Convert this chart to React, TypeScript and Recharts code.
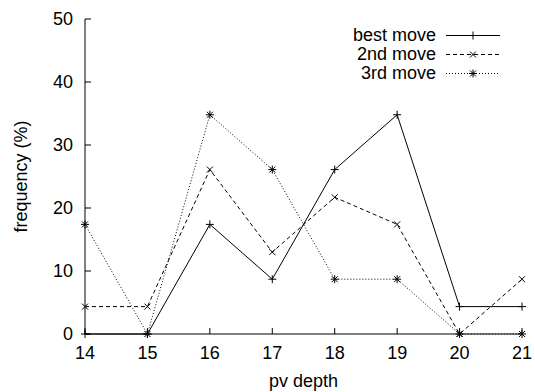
import React from 'react';
import { LineChart, Line, XAxis, YAxis, Legend } from 'recharts';

const depths = [14, 15, 16, 17, 18, 19, 20, 21];
const bestMove = [0, 0, 17.4, 8.7, 26.1, 34.8, 4.35, 4.35];
const secondMove = [4.35, 4.35, 26.1, 13.0, 21.7, 17.4, 0, 8.7];
const thirdMove = [17.4, 0, 34.8, 26.1, 8.7, 8.7, 0, 0];
const xTicks = [14, 15, 16, 17, 18, 19, 20, 21];
const yTicks = [0, 10, 20, 30, 40, 50];

const data = depths.map((d, i) => ({
  depth: d,
  best: bestMove[i],
  second: secondMove[i],
  third: thirdMove[i],
}));

const FONT = '"Liberation Sans", Arial, Helvetica, sans-serif';

// gnuplot point types
const plusPath = (cx: number, cy: number) => `M${cx - 4},${cy}h8M${cx},${cy - 4}v8`;
const crossPath = (cx: number, cy: number) => `M${cx - 3},${cy - 3}l6,6M${cx - 3},${cy + 3}l6,-6`;
const starPath = (cx: number, cy: number) => plusPath(cx, cy) + crossPath(cx, cy);

const makeDot = (fn: (cx: number, cy: number) => string) => (props: any) => {
  const { cx, cy, index } = props;
  return <path key={index} d={fn(cx, cy)} stroke="#000" strokeWidth={1} fill="none" />;
};

const series = [
  { key: 'best', name: 'best move', dash: undefined, shape: plusPath },
  { key: 'second', name: '2nd move', dash: '4 3', shape: crossPath },
  { key: 'third', name: '3rd move', dash: '1 2', shape: starPath },
];

const LegendBox = () => (
  <div style={{ fontFamily: FONT, fontSize: 18, color: '#000' }}>
    {series.map((s) => (
      <div key={s.key} style={{ display: 'flex', alignItems: 'center', height: 19 }}>
        <span style={{ width: 140, textAlign: 'right', lineHeight: '19px' }}>{s.name}</span>
        <svg width={63} height={19} style={{ marginLeft: 10 }}>
          <line x1={0} y1={9.5} x2={54} y2={9.5} stroke="#000" strokeWidth={1} strokeDasharray={s.dash} />
          <path d={s.shape(27, 9.5)} stroke="#000" fill="none" />
        </svg>
      </div>
    ))}
  </div>
);

const tickStyle = { fill: '#000', fontSize: 18, fontFamily: FONT };

export default function App() {
  return (
    <div style={{ position: 'absolute', left: 0, top: 0, background: '#fff' }}>
      <LineChart width={535} height={392} data={data} margin={{ top: 19, right: 13, left: 0, bottom: 0 }}>
        <XAxis
          dataKey="depth"
          type="number"
          domain={[14, 21]}
          ticks={xTicks}
          height={58}
          stroke="#000"
          tickSize={-6}
          tickMargin={18}
          tick={tickStyle}
          label={{ value: 'pv depth', position: 'insideBottom', offset: 5, style: { fill: '#000', fontSize: 18, fontFamily: FONT } }}
        />
        <XAxis
          xAxisId="top"
          orientation="top"
          dataKey="depth"
          type="number"
          domain={[14, 21]}
          ticks={xTicks}
          height={0}
          stroke="#000"
          tickSize={-6}
          tickFormatter={() => ''}
        />
        <YAxis
          type="number"
          domain={[0, 50]}
          ticks={yTicks}
          width={85}
          stroke="#000"
          tickSize={-6}
          tickMargin={18}
          tick={tickStyle}
          label={{
            value: 'frequency (%)',
            angle: -90,
            position: 'insideLeft',
            offset: 21,
            style: { fill: '#000', fontSize: 18, fontFamily: FONT, textAnchor: 'middle' },
          }}
        />
        <YAxis
          yAxisId="right"
          orientation="right"
          type="number"
          domain={[0, 50]}
          ticks={yTicks}
          width={0}
          stroke="#000"
          tickSize={-6}
          tickFormatter={() => ''}
        />
        <Legend
          layout="horizontal"
          verticalAlign="middle"
          align="center"
          content={<LegendBox />}
          wrapperStyle={{ top: 26, left: 296, width: 220 }}
        />
        {series.map((s) => (
          <Line
            key={s.key}
            type="linear"
            dataKey={s.key}
            name={s.name}
            stroke="#000"
            strokeWidth={1}
            strokeDasharray={s.dash}
            dot={makeDot(s.shape)}
            activeDot={false}
            isAnimationActive={false}
          />
        ))}
      </LineChart>
    </div>
  );
}
